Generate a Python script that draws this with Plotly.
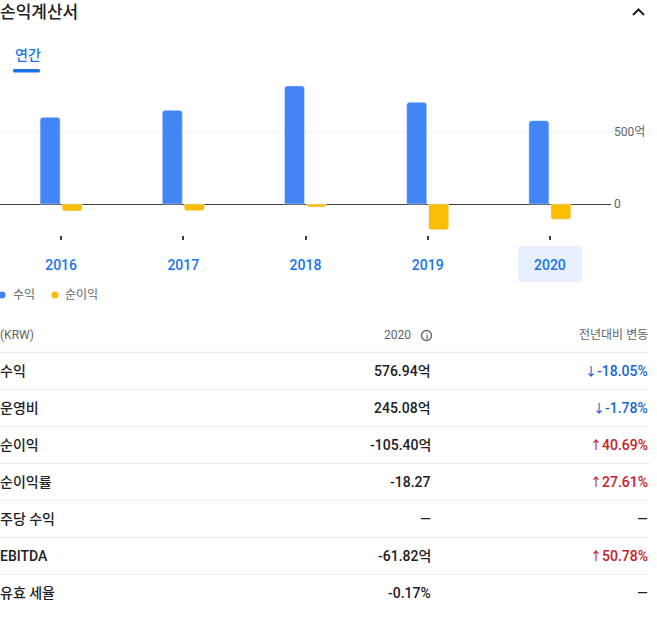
import plotly.graph_objects as go

# --- data (KRW, 억 units) ---
years = ["2016", "2017", "2018", "2019", "2020"]
series_names = ["수익", "순이익"]
revenue = [600, 648, 817, 704, 576.94]
net_income = [-48, -46, -20, -177.7, -105.4]

y_tickvals = [0, 500]
y_ticktext = ["0", "500억"]

row_labels = ["수익", "운영비", "순이익", "순이익률", "주당 수익", "EBITDA", "유효 세율"]
row_values = ["576.94억", "245.08억", "-105.40억", "-18.27", "—", "-61.82억", "-0.17%"]
yoy_change = [-18.05, -1.78, 40.69, 27.61, None, 50.78, None]

# --- page geometry / styles ---
W, H = 657, 618
FONT = "Roboto, Noto Sans CJK KR, sans-serif"
BLUE, YELLOW = "#4285f4", "#fbbc04"
LINK = "#1a73e8"
INK, GREY = "#202124", "#5f6368"
UP, DOWN = "#c5221f", "#1967d2"


def px(x):
    return x / W


def py(y):
    return 1 - y / H


def text(x, y, s, size=14, color=INK, anchor="left", weight=400):
    return dict(x=px(x), y=py(y), xref="paper", yref="paper", text=s, showarrow=False,
                xanchor=anchor, yanchor="middle", borderpad=0,
                font=dict(family=FONT, size=size, color=color, weight=weight))


def rounded_rect(x0, y0, x1, y1, r):
    # path in paper coords from pixel box
    pts = [
        f"M {px(x0 + r)} {py(y0)}", f"L {px(x1 - r)} {py(y0)}",
        f"Q {px(x1)} {py(y0)} {px(x1)} {py(y0 + r)}", f"L {px(x1)} {py(y1 - r)}",
        f"Q {px(x1)} {py(y1)} {px(x1 - r)} {py(y1)}", f"L {px(x0 + r)} {py(y1)}",
        f"Q {px(x0)} {py(y1)} {px(x0)} {py(y1 - r)}", f"L {px(x0)} {py(y0 + r)}",
        f"Q {px(x0)} {py(y0)} {px(x0 + r)} {py(y0)}", "Z",
    ]
    return " ".join(pts)


def change_text(v):
    if v is None:
        return "—", INK
    arrow, col = ("↓", DOWN) if v < 0 else ("↑", UP)
    return f"<span style='font-size:12px'>{arrow}</span>{v:.2f}%", col


fig = go.Figure()
fig.add_trace(go.Bar(x=years, y=revenue, name=series_names[0], marker_color=BLUE,
                     hoverinfo="skip"))
fig.add_trace(go.Bar(x=years, y=net_income, name=series_names[1], marker_color=YELLOW,
                     hoverinfo="skip"))

shapes = []
annotations = []

# selected-year highlight behind "2020"
shapes.append(dict(type="path", xref="paper", yref="paper", layer="below",
                   path=rounded_rect(518, 246, 582, 282, 4),
                   fillcolor="#e8f0fe", line=dict(width=0)))

# header
annotations.append(text(-1, 12, "손익계산서", size=17, weight=500))
shapes.append(dict(type="path", xref="paper", yref="paper",
                   path=f"M {px(633)} {py(15)} L {px(638.5)} {py(9.5)} L {px(644)} {py(15)}",
                   line=dict(color=INK, width=2)))
annotations.append(text(28, 55.5, "연간", size=14, color=LINK, anchor="center", weight=500))
shapes.append(dict(type="path", xref="paper", yref="paper",
                   path=rounded_rect(13, 69, 40, 72.5, 1.5),
                   fillcolor=LINK, line=dict(width=0)))

# legend
for cx, tx, name, col in [(2, 12, series_names[0], BLUE), (55, 64, series_names[1], YELLOW)]:
    shapes.append(dict(type="circle", xref="paper", yref="paper",
                       x0=px(cx - 3.5), x1=px(cx + 3.5), y0=py(295 + 3.5), y1=py(295 - 3.5),
                       fillcolor=col, line=dict(width=0)))
    annotations.append(text(tx, 295, name, size=12, color=GREY))

# table header
annotations.append(text(-1, 335, "(KRW)", size=12, color=GREY))
annotations.append(text(412, 335, years[-1], size=12, color=GREY, anchor="right"))
shapes.append(dict(type="circle", xref="paper", yref="paper",
                   x0=px(421.5), x1=px(431.5), y0=py(340.5), y1=py(330.5),
                   line=dict(color=GREY, width=1.3)))
annotations.append(text(426.5, 336, "i", size=8, color=GREY, anchor="center", weight=700))
annotations.append(text(649, 335, "전년대비 변동", size=12, color=GREY, anchor="right"))

# table rows
for i, (lab, val, chg) in enumerate(zip(row_labels, row_values, yoy_change)):
    ly = 352.3 + 37 * i
    shapes.append(dict(type="line", xref="paper", yref="paper",
                       x0=0, x1=px(649), y0=py(ly), y1=py(ly),
                       line=dict(color="#e8eaed", width=1)))
    cy = 371 + 37 * i
    annotations.append(text(-1, cy, lab, size=14, weight=500))
    annotations.append(text(432, cy, val, size=14, anchor="right", weight=500))
    s, col = change_text(chg)
    annotations.append(text(649, cy, s, size=14, color=col, anchor="right",
                            weight=400 if chg is None else 500))

fig.update_layout(
    width=W, height=H, autosize=False,
    margin=dict(l=0, r=0, t=0, b=0),
    paper_bgcolor="white", plot_bgcolor="white",
    showlegend=False,
    barmode="group", bargap=0.64, bargroupgap=0.09, barcornerradius=3,
    font=dict(family=FONT, color=INK),
    xaxis=dict(domain=[0, px(611)], type="category", range=[-0.5, 4.5],
               showgrid=False, showline=False, zeroline=False,
               ticks="outside", ticklen=4, tickwidth=1.5, tickcolor="#3c4043",
               ticklabelstandoff=13,
               tickfont=dict(family=FONT, size=14, color=LINK, weight=500)),
    yaxis=dict(domain=[py(235), py(80)], range=[-214, 858], side="right",
               tickvals=y_tickvals, ticktext=y_ticktext,
               showgrid=True, gridcolor="#f1f3f4", gridwidth=1,
               zeroline=True, zerolinecolor="#3c4043", zerolinewidth=1,
               ticks="", ticklabelstandoff=2,
               tickfont=dict(family=FONT, size=12, color=GREY)),
    shapes=shapes,
    annotations=annotations,
)

# page has the default 8px body margin; drop it so the figure fills the window
fig.write_html("out.html", config={"displayModeBar": False},
               post_script="document.body.style.margin='0';")
